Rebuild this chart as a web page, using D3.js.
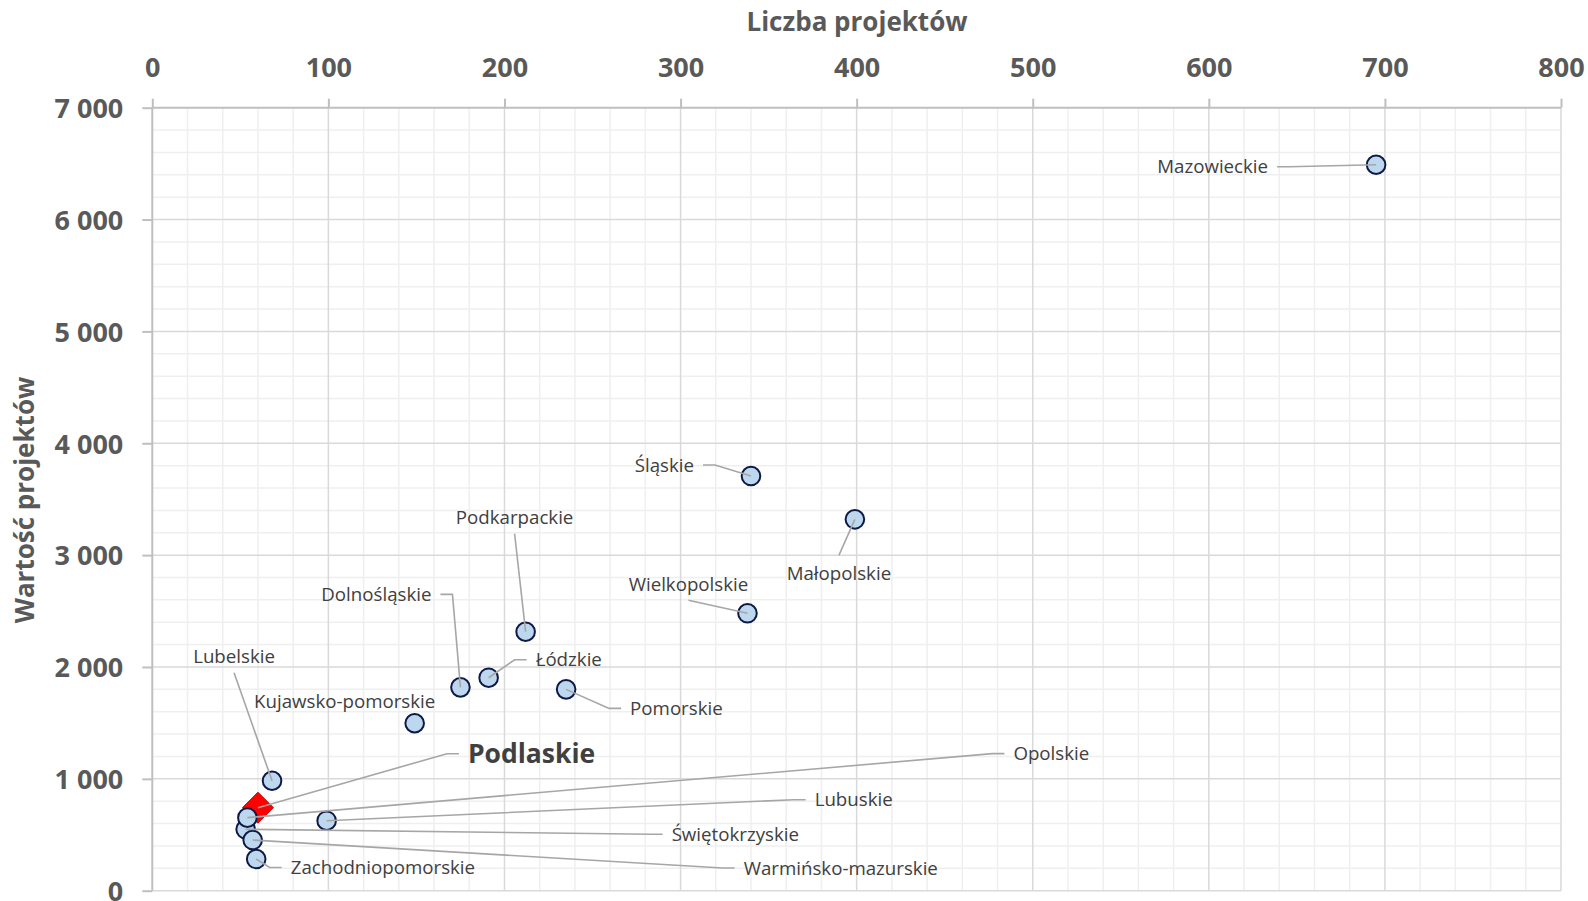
<!DOCTYPE html>
<html>
<head>
<meta charset="utf-8">
<script src="https://cdn.jsdelivr.net/npm/d3@7/dist/d3.min.js"></script>
<style>
  html, body { margin: 0; padding: 0; background: #ffffff; }
  svg { display: block; }
</style>
</head>
<body>
<div id="chart"></div>
<script>
// ---- data ----
const regions = ["Mazowieckie", "Śląskie", "Małopolskie", "Wielkopolskie", "Podkarpackie",
  "Dolnośląskie", "Łódzkie", "Pomorskie", "Kujawsko-pomorskie", "Lubelskie",
  "Świętokrzyskie", "Zachodniopomorskie", "Warmińsko-mazurskie", "Opolskie", "Lubuskie"];
const projectCounts = [695, 340, 399, 338, 212, 175, 191, 235, 149, 68, 53, 59, 57, 54, 99];
const projectValues = [6490, 3707, 3320, 2480, 2315, 1818, 1904, 1800, 1497, 983, 549, 283, 453, 653, 626];
const highlightName = "Podlaskie";
const highlightCount = 60;
const highlightValue = 742;

const xTickValues = [0, 100, 200, 300, 400, 500, 600, 700, 800];
const yTickValues = [0, 1000, 2000, 3000, 4000, 5000, 6000, 7000];
const xTitle = "Liczba projektów";
const yTitle = "Wartość projektów";

// ---- layout (label placement relative to the point) ----
const labelLayout = {
  "Mazowieckie":        { anchor: "end",    dx: -108, dy: 2,    leader: "side" },
  "Śląskie":            { anchor: "end",    dx: -57,  dy: -11,  leader: "side" },
  "Małopolskie":        { anchor: "middle", dx: -16,  dy: 54,   leader: "above" },
  "Wielkopolskie":      { anchor: "middle", dx: -59,  dy: -29,  leader: "below" },
  "Podkarpackie":       { anchor: "middle", dx: -11,  dy: -114, leader: "below" },
  "Dolnośląskie":       { anchor: "end",    dx: -29,  dy: -93,  leader: "side" },
  "Łódzkie":            { anchor: "start",  dx: 47,   dy: -18,  leader: "side" },
  "Pomorskie":          { anchor: "start",  dx: 64,   dy: 19,   leader: "side" },
  "Kujawsko-pomorskie": { anchor: "middle", dx: -70,  dy: -22,  leader: "none" },
  "Lubelskie":          { anchor: "middle", dx: -38,  dy: -124, leader: "below" },
  "Podlaskie":          { anchor: "start",  dx: 210,  dy: -54,  leader: "side", bold: true },
  "Opolskie":           { anchor: "start",  dx: 766,  dy: -64,  leader: "side" },
  "Lubuskie":           { anchor: "start",  dx: 488,  dy: -21,  leader: "side" },
  "Świętokrzyskie":     { anchor: "start",  dx: 426,  dy: 5,    leader: "side" },
  "Warmińsko-mazurskie":{ anchor: "start",  dx: 491,  dy: 28,   leader: "side" },
  "Zachodniopomorskie": { anchor: "start",  dx: 34.5, dy: 8.5,  leader: "side" }
};

const W = 1588, H = 901;
const margin = { left: 152.3, right: W - 1561, top: 107.7, bottom: H - 890.7 };

const svg = d3.select("#chart").append("svg")
  .attr("width", W).attr("height", H)
  .style("font-family", "'Open Sans', sans-serif");

svg.append("rect").attr("width", W).attr("height", H).attr("fill", "#ffffff");

const x = d3.scaleLinear().domain([0, 800]).range([margin.left, W - margin.right]);
const y = d3.scaleLinear().domain([0, 7000]).range([H - margin.bottom, margin.top]);

const fmt = d3.formatLocale({ decimal: ",", thousands: " ", grouping: [3], currency: ["", ""] }).format(",");

// minor grid
const grid = svg.append("g");
grid.selectAll(".minx").data(d3.range(0, 801, 20).filter(v => v % 100 !== 0)).join("line")
  .attr("x1", d => x(d)).attr("x2", d => x(d)).attr("y1", y(7000)).attr("y2", y(0))
  .attr("stroke", "#efefef").attr("stroke-width", 1.5);
grid.selectAll(".miny").data(d3.range(0, 7001, 200).filter(v => v % 1000 !== 0)).join("line")
  .attr("y1", d => y(d)).attr("y2", d => y(d)).attr("x1", x(0)).attr("x2", x(800))
  .attr("stroke", "#efefef").attr("stroke-width", 1.5);
// major grid
grid.selectAll(".majx").data(xTickValues.filter(v => v > 0)).join("line")
  .attr("x1", d => x(d)).attr("x2", d => x(d)).attr("y1", y(7000)).attr("y2", y(0))
  .attr("stroke", "#d9d9d9").attr("stroke-width", 1.5);
grid.selectAll(".majy").data(yTickValues.filter(v => v < 7000)).join("line")
  .attr("y1", d => y(d)).attr("y2", d => y(d)).attr("x1", x(0)).attr("x2", x(800))
  .attr("stroke", "#d9d9d9").attr("stroke-width", 1.5);

// axes
const xAxis = svg.append("g").attr("transform", `translate(0,${y(7000)})`)
  .call(d3.axisTop(x).tickValues(xTickValues).tickSize(9).tickPadding(22).tickFormat(fmt));
const yAxis = svg.append("g").attr("transform", `translate(${x(0)},0)`)
  .call(d3.axisLeft(y).tickValues(yTickValues).tickSize(10).tickPadding(19).tickFormat(fmt));
[xAxis, yAxis].forEach(g => {
  g.select(".domain").attr("stroke", "#bfbfbf").attr("stroke-width", 2);
  g.selectAll(".tick line").attr("stroke", "#bfbfbf").attr("stroke-width", 2);
  g.selectAll(".tick text").attr("fill", "#595959").attr("font-size", 27)
    .attr("font-weight", 700).attr("font-family", "'Open Sans', sans-serif");
});
xAxis.select(".domain").attr("d", `M${x(0)},0H${x(800)}`);
yAxis.select(".domain").attr("d", `M0,${y(0)}V${y(7000)}`);
xAxis.selectAll(".tick text").attr("dy", "0em");
yAxis.selectAll(".tick text").attr("dy", "0.36em");

// axis titles
svg.append("text").attr("x", 857).attr("y", 22).attr("dy", "0.36em")
  .attr("text-anchor", "middle").attr("fill", "#595959")
  .attr("font-size", 26).attr("font-weight", 700).text(xTitle);
svg.append("text").attr("transform", "translate(25,500) rotate(-90)").attr("dy", "0.36em")
  .attr("text-anchor", "middle").attr("fill", "#595959")
  .attr("font-size", 26).attr("font-weight", 700).text(yTitle);

// points
const points = regions.map((r, i) => ({ name: r, px: x(projectCounts[i]), py: y(projectValues[i]) }));
const hl = { name: highlightName, px: x(highlightCount), py: y(highlightValue) };

const marks = svg.append("g");
const ds = 15.5;
marks.append("path")
  .attr("d", `M${hl.px},${hl.py - ds}L${hl.px + ds},${hl.py}L${hl.px},${hl.py + ds}L${hl.px - ds},${hl.py}Z`)
  .attr("fill", "#ff0000").attr("stroke", "#c00000").attr("stroke-width", 1);
marks.selectAll("circle").data(points).join("circle")
  .attr("cx", d => d.px).attr("cy", d => d.py).attr("r", 9.3)
  .attr("fill", "#bdd7ee").attr("stroke", "#0e1a45").attr("stroke-width", 2);

// labels & leaders
const all = points.concat([hl]);
const leaders = svg.append("g");
const labels = svg.append("g");
all.forEach(d => {
  const L = labelLayout[d.name];
  const tx = d.px + L.dx, ty = d.py + L.dy;
  const fs = L.bold ? 26.5 : 18.7;
  labels.append("text").attr("x", tx).attr("y", ty).attr("dy", "0.36em")
    .attr("text-anchor", L.anchor).attr("fill", "#404040")
    .attr("font-size", fs).attr("font-weight", L.bold ? 700 : 400).text(d.name);
  let pts = null;
  if (L.leader === "side") {
    const dir = L.anchor === "end" ? 1 : -1;
    pts = [[tx + dir * 9, ty], [tx + dir * 21, ty], [d.px, d.py]];
  } else if (L.leader === "below") {
    pts = [[tx, ty + 16], [d.px, d.py]];
  } else if (L.leader === "above") {
    pts = [[tx, ty - 18], [d.px, d.py]];
  }
  if (pts) {
    leaders.append("path").attr("d", d3.line()(pts)).attr("fill", "none")
      .attr("stroke", "#a6a6a6").attr("stroke-width", 1.6);
  }
});
</script>
</body>
</html>
